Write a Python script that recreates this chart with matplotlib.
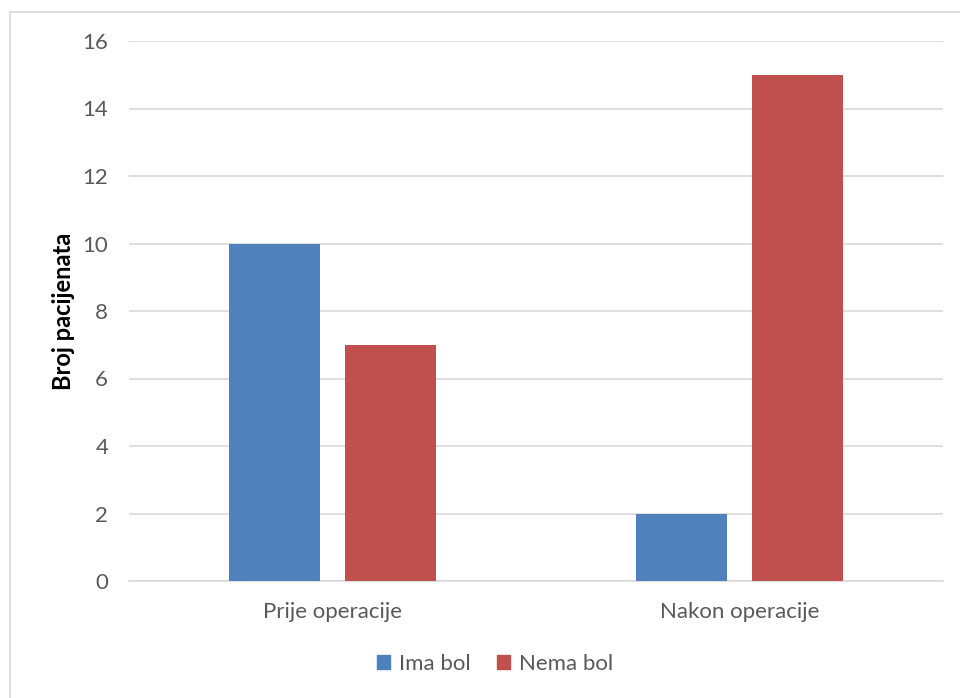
import matplotlib
matplotlib.use("Agg")
import matplotlib.pyplot as plt
from matplotlib.patches import Rectangle, Patch
import numpy as np

categories = ["Prije operacije", "Nakon operacije"]
series_names = ["Ima bol", "Nema bol"]
ima_bol = [10, 2]
nema_bol = [7, 15]
yticks = [0, 2, 4, 6, 8, 10, 12, 14, 16]

plt.rcParams['font.family'] = ['Lato', 'DejaVu Sans']

W, H = 960, 698
fig = plt.figure(figsize=(W / 100, H / 100), dpi=100)
ax = fig.add_axes([129 / W, 1 - 581 / H, (943 - 129) / W, (581 - 41) / H])

# outer chart border (cropped on right/bottom)
fig.patches.append(Rectangle((9.5 / W, -0.1), 1.2, 1.1 - 12.5 / H,
                             transform=fig.transFigure, fill=False,
                             edgecolor="#d9d9d9", linewidth=1.2))

x = np.arange(len(categories))
bw = 0.224
off = 0.1415
ax.bar(x - off, ima_bol, bw, color="#4f81bd", zorder=3)
ax.bar(x + off, nema_bol, bw, color="#c0504d", zorder=3)

ax.set_xlim(-0.5, 1.5)
ax.set_ylim(0, 16)
ax.set_yticks(yticks)
ax.set_xticks(x)
ax.set_xticklabels(categories)
ax.grid(axis="y", color="#d9d9d9", linewidth=1.2, zorder=0)
for s in ["top", "right", "left"]:
    ax.spines[s].set_visible(False)
ax.spines["bottom"].set_color("#d9d9d9")
ax.spines["bottom"].set_linewidth(1.2)
ax.tick_params(axis="both", length=0, labelsize=16, colors="#595959")
ax.tick_params(axis="y", pad=15)
ax.tick_params(axis="x", pad=15)
ax.set_ylabel("Broj pacijenata", fontsize=17, fontweight="bold", color="black", labelpad=5)

handles = [Patch(color="#4f81bd"), Patch(color="#c0504d")]
fig.legend(handles, series_names, loc="center", bbox_to_anchor=(495 / W, 1 - 664 / H),
           ncol=2, frameon=False, fontsize=16, labelcolor="#595959",
           handlelength=0.6, handleheight=0.6, handletextpad=0.4, columnspacing=1.2)

fig.savefig("out.png", dpi=100, facecolor="white")
